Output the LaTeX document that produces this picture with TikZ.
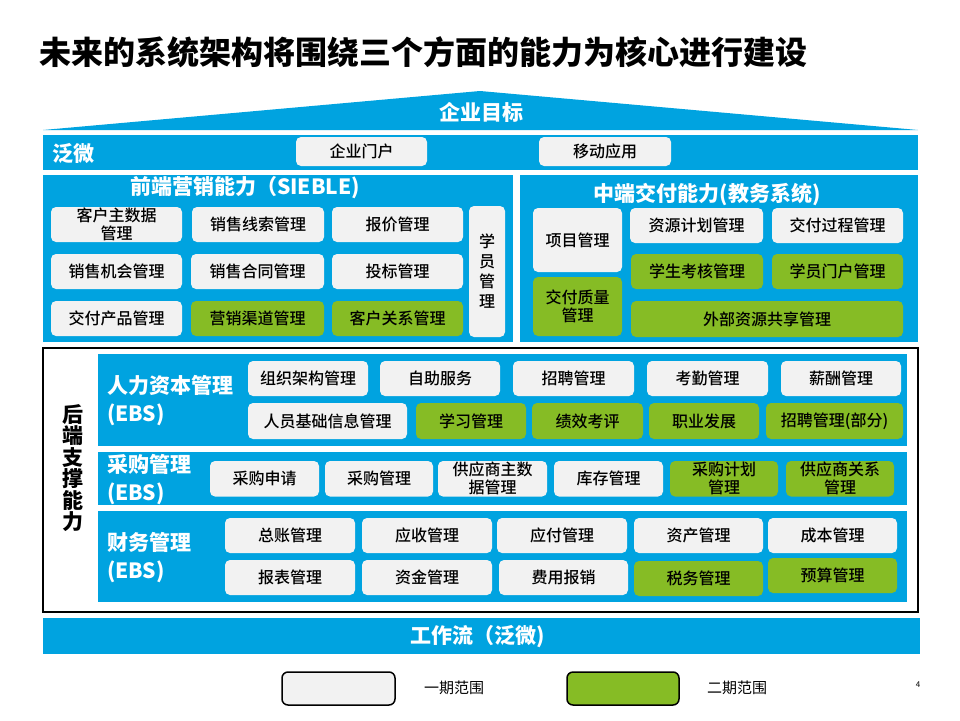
\documentclass[tikz,border=0pt]{standalone}
\usepackage{fontspec}
\setmainfont{Noto Sans CJK SC}
\newfontfamily\boxfont{Noto Sans CJK SC}[UprightFont=* Medium]

\definecolor{panelblue}{RGB}{0,163,224}
\definecolor{phasegray}{RGB}{242,242,242}
\definecolor{phasegreen}{RGB}{134,188,37}

\tikzset{
  panel/.style={fill=panelblue},
  phasebox/.style={rounded corners=5pt, inner sep=0pt, align=center,
    font=\boxfont\fontsize{16}{18}\selectfont},
  span/.style args={(#1,#2)(#3,#4)}{at={({(#1+#3)/2},{(#2+#4)/2})},
    minimum width={(#3-#1)*1pt}, minimum height={(#4-#2)*1pt}},
  paneltitle/.style={text=white, inner sep=0pt, font=\bfseries\fontsize{21}{24}\selectfont},
  striptitle/.style={paneltitle, align=left, anchor=west, font=\bfseries\fontsize{21}{28}\selectfont},
}

\begin{document}
\begin{tikzpicture}[x=1pt, y=-1pt]
    \useasboundingbox (0,0) rectangle (960,720);

    % Title
    \node[anchor=west, inner sep=0pt, font=\bfseries\fontsize{32}{34}\selectfont] (title) at (39,52)
        {未来的系统架构将围绕三个方面的能力为核心进行建设};

    % Enterprise goal
    \fill[panel] (43,130) -- (480,91) -- (918,130) -- cycle;
    \node[paneltitle] (goal) at (481,112) {企业目标};

    % Fanwei bar
    \fill[panel] (43,135) rectangle (918,170);
    \node[paneltitle, anchor=west] (fanwei) at (52,153) {泛微};
    \node[phasebox, fill=phasegray, span={(296,137)(427,166)}] (portal) {企业门户};
    \node[phasebox, fill=phasegray, span={(539,137)(671,166)}] (mobile) {移动应用};

    % Front-end marketing
    \fill[panel] (43,175) rectangle (513,342);
    \node[paneltitle] (front) at (245,188) {前端营销能力（SIEBLE)};
    \foreach \n/\c/\a/\b/\t in {custdata/phasegray/51/182/{客户主数据\\管理},
        saleslead/phasegray/192/324/销售线索管理, quote/phasegray/332/463/报价管理}
        \node[phasebox, fill=\c, span={(\a,207)(\b,242)}] (\n) {\t};
    \foreach \n/\c/\a/\b/\t in {salesopp/phasegray/51/182/销售机会管理,
        contract/phasegray/191/324/销售合同管理, bid/phasegray/332/463/投标管理}
        \node[phasebox, fill=\c, span={(\a,254)(\b,289)}] (\n) {\t};
    \foreach \n/\c/\a/\b/\t in {product/phasegray/51/182/交付产品管理,
        channel/phasegreen/191/324/营销渠道管理, crm/phasegreen/332/463/客户关系管理}
        \node[phasebox, fill=\c, span={(\a,301)(\b,336)}] (\n) {\t};
    \node[phasebox, fill=phasegray, span={(469,206)(505,337)},
        font=\boxfont\fontsize{16}{20}\selectfont] (learner) {学\\员\\管\\理};

    % Middle delivery
    \fill[panel] (520,175) rectangle (918,342);
    \node[paneltitle] (middle) at (707,195) {中端交付能力(教务系统)};
    \node[phasebox, fill=phasegray, span={(533,208)(622,272)}] (project) {项目管理};
    \node[phasebox, fill=phasegreen, span={(533,277)(622,336)}] (quality) {交付质量\\管理};
    \node[phasebox, fill=phasegray, span={(630,208)(763,243)}] (resplan) {资源计划管理};
    \node[phasebox, fill=phasegray, span={(772,208)(903,243)}] (process) {交付过程管理};
    \node[phasebox, fill=phasegreen, span={(631,254)(763,289)}] (exam) {学生考核管理};
    \node[phasebox, fill=phasegreen, span={(772,254)(903,289)}] (stuportal) {学员门户管理};
    \node[phasebox, fill=phasegreen, span={(631,301)(903,337)}] (sharing) {外部资源共享管理};

    % Back-end support
    \draw[line width=2.5pt] (43,348) rectangle (918,612);
    \node[inner sep=0pt, align=center, font=\bfseries\fontsize{21}{21.5}\selectfont] (back) at (73,468)
        {后\\端\\支\\撑\\能\\力};

    % Human capital
    \fill[panel] (98,354) rectangle (907,446);
    \node[striptitle] (hr) at (107,401) {人力资本管理\\(EBS)};
    \foreach \n/\a/\b/\t in {org/248/368/组织架构管理, selfsvc/380/500/自助服务,
        recruit/513/634/招聘管理, attend/647/768/考勤管理, salary/781/901/薪酬管理}
        \node[phasebox, fill=phasegray, span={(\a,361)(\b,396)}] (\n) {\t};
    \foreach \n/\c/\a/\b/\t in {staff/phasegray/248/407/人员基础信息管理,
        study/phasegreen/416/526/学习管理, perf/phasegreen/532/643/绩效考评,
        career/phasegreen/649/759/职业发展, recruitp/phasegreen/766/903/招聘管理(部分)}
        \node[phasebox, fill=\c, span={(\a,403)(\b,439)}] (\n) {\t};

    % Purchasing
    \fill[panel] (98,452) rectangle (907,505);
    \node[striptitle] (pur) at (107,479.5) {采购管理\\(EBS)};
    \foreach \n/\c/\a/\b/\t in {preq/phasegray/210/319/采购申请,
        pmgmt/phasegray/325/433/采购管理, supdata/phasegray/438/547/{供应商主数\\据管理},
        stock/phasegray/554/663/库存管理, pplan/phasegreen/670/778/{采购计划\\管理},
        suprel/phasegreen/786/894/{供应商关系\\管理}}
        \node[phasebox, fill=\c, span={(\a,461)(\b,496.5)}] (\n) {\t};

    % Finance
    \fill[panel] (98,511) rectangle (907,602);
    \node[striptitle] (fin) at (107,557.5) {财务管理\\(EBS)};
    \foreach \n/\a/\b/\t in {ledger/225/355/总账管理, recv/362/492/应收管理,
        pay/497/627/应付管理, asset/634/763/资产管理, cost/768/897/成本管理}
        \node[phasebox, fill=phasegray, span={(\a,518)(\b,553)}] (\n) {\t};
    \foreach \n/\c/\a/\b/\t in {report/phasegray/225/355/报表管理,
        fund/phasegray/362/492/资金管理, expense/phasegray/499/628/费用报销}
        \node[phasebox, fill=\c, span={(\a,560)(\b,595)}] (\n) {\t};
    \node[phasebox, fill=phasegreen, span={(634,561)(763,596)}] (tax) {税务管理};
    \node[phasebox, fill=phasegreen, span={(768,558)(897,593)}] (budget) {预算管理};

    % Workflow bar
    \fill[panel] (43,618) rectangle (920,654);
    \node[paneltitle] (flow) at (478,637) {工作流（泛微)};

    % Legend
    \node[phasebox, fill=phasegray, draw, line width=1.5pt, rounded corners=6pt,
        span={(282,672)(395,705)}] (phase1) {};
    \node[anchor=west, inner sep=0pt, font=\fontsize{15}{16}\selectfont] (phase1txt) at (424,688) {一期范围};
    \node[phasebox, fill=phasegreen, draw, line width=1.5pt, rounded corners=6pt,
        span={(567,672)(679,705)}] (phase2) {};
    \node[anchor=west, inner sep=0pt, font=\fontsize{15}{16}\selectfont] (phase2txt) at (707,688) {二期范围};
    \node[inner sep=0pt, font=\fontsize{8}{9}\selectfont] (page) at (918,685) {4};
\end{tikzpicture}
\end{document}
